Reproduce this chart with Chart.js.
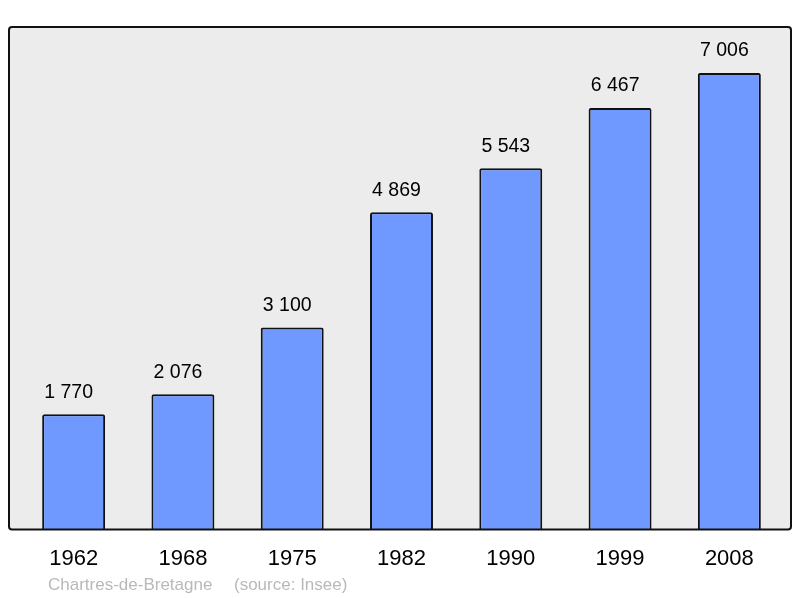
<!DOCTYPE html>
<html>
<head>
<meta charset="utf-8">
<script src="https://cdn.jsdelivr.net/npm/chart.js@4"></script>
<style>
  body { margin: 0; background: #fff; }
  #wrap { width: 800px; height: 598px; }
</style>
</head>
<body>
<div id="wrap"><canvas id="popChart" width="800" height="598"></canvas></div>
<script>
const years = ["1962", "1968", "1975", "1982", "1990", "1999", "2008"];
const population = [1770, 2076, 3100, 4869, 5543, 6467, 7006];
const townName = "Chartres-de-Bretagne";
const sourceText = "(source: Insee)";

const FONT = "'Liberation Sans', Arial, sans-serif";

// gray frame behind the bars, a bit wider than the category area
const framePlugin = {
  id: "frame",
  beforeDraw(chart) {
    const { ctx, chartArea: a } = chart;
    const x = a.left - 10, y = a.top, w = a.right - a.left + 17, h = a.bottom - a.top;
    ctx.save();
    ctx.beginPath();
    ctx.roundRect(x, y, w, h, 3);
    ctx.fillStyle = "#ececec";
    ctx.fill();
    ctx.restore();
  },
  afterDatasetsDraw(chart) {
    const { ctx, chartArea: a } = chart;
    const x = a.left - 10, y = a.top, w = a.right - a.left + 17, h = a.bottom - a.top;
    ctx.save();
    ctx.beginPath();
    ctx.roundRect(x, y, w, h, 3);
    ctx.lineWidth = 2;
    ctx.strokeStyle = "#111";
    ctx.stroke();
    ctx.restore();
  }
};

// value labels above bars + footer text
const labelPlugin = {
  id: "valueLabels",
  afterDraw(chart) {
    const { ctx } = chart;
    const meta = chart.getDatasetMeta(0);
    ctx.save();
    ctx.font = "19.5px " + FONT;
    ctx.fillStyle = "#000";
    ctx.textAlign = "center";
    ctx.textBaseline = "middle";
    meta.data.forEach((bar, i) => {
      const txt = population[i].toLocaleString("fr-FR").replace(/\s/g, " ");
      ctx.fillText(txt, bar.x - 5, bar.y - 22);
    });
    ctx.font = "17px " + FONT;
    ctx.fillStyle = "#b9b9b9";
    ctx.textAlign = "left";
    ctx.textBaseline = "alphabetic";
    ctx.fillText(townName, 48, 590);
    ctx.fillText(sourceText, 234, 590);
    ctx.restore();
  }
};

new Chart(document.getElementById("popChart"), {
  type: "bar",
  data: {
    labels: years,
    datasets: [{
      data: population,
      backgroundColor: "#7099ff",
      borderColor: "#111",
      borderWidth: 2,
      borderRadius: 2,
      borderSkipped: "bottom",
      barPercentage: 0.576,
      categoryPercentage: 1
    }]
  },
  options: {
    responsive: false,
    animation: false,
    devicePixelRatio: 1,
    layout: { padding: { left: 19, right: 16, top: 27, bottom: 18 } },
    plugins: {
      legend: { display: false },
      tooltip: { enabled: false }
    },
    scales: {
      x: {
        grid: { display: false },
        border: { display: false },
        ticks: { color: "#000", font: { size: 22, family: FONT }, padding: 8 }
      },
      y: {
        display: false,
        min: 0,
        max: 7711
      }
    }
  },
  plugins: [framePlugin, labelPlugin]
});
</script>
</body>
</html>
